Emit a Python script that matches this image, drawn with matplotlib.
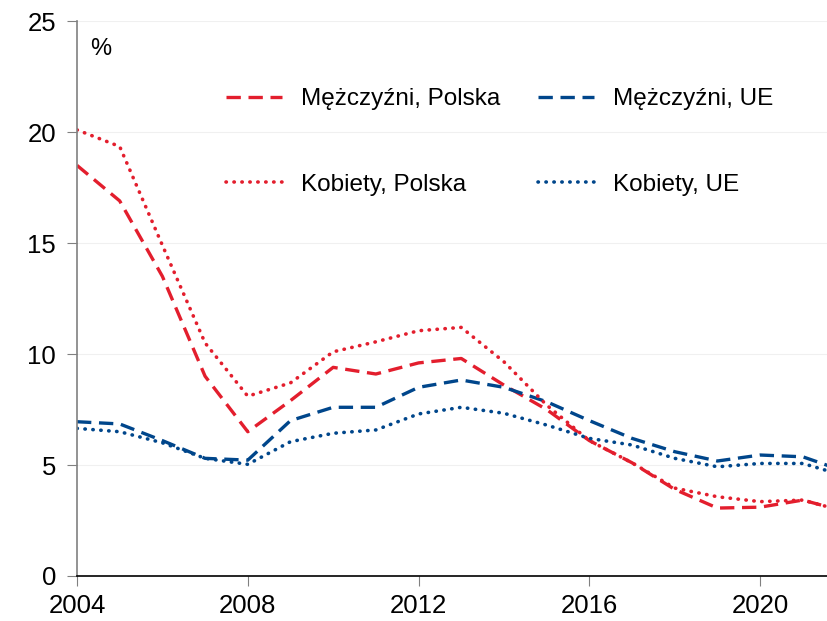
import matplotlib.pyplot as plt
import numpy as np

plt.rcParams['font.family'] = ['Liberation Sans', 'DejaVu Sans']

years = np.arange(2004, 2023)

men_pl = [18.5, 16.9, 13.5, 9.0, 6.5, 7.9, 9.4, 9.1, 9.6, 9.8, 8.6, 7.5,
          6.1, 5.1, 3.9, 3.06, 3.1, 3.42, 2.9]
men_ue = [6.95, 6.85, 6.1, 5.3, 5.22, 7.0, 7.6, 7.6, 8.5, 8.83, 8.5, 7.85,
          7.0, 6.2, 5.6, 5.18, 5.45, 5.37, 4.7]
women_pl = [20.1, 19.35, 14.9, 10.5, 8.1, 8.7, 10.1, 10.55, 11.05, 11.2, 9.65, 7.7,
            6.1, 5.1, 3.96, 3.57, 3.35, 3.42, 2.9]
women_ue = [6.65, 6.5, 6.0, 5.3, 5.03, 6.05, 6.43, 6.58, 7.3, 7.6, 7.33, 6.8,
            6.2, 5.9, 5.3, 4.92, 5.07, 5.07, 4.5]

labels = ['Mężczyźni, Polska', 'Mężczyźni, UE', 'Kobiety, Polska', 'Kobiety, UE']
red = '#E31E2D'
blue = '#00468B'

fig = plt.figure(figsize=(8.28, 6.21), dpi=100)
ax = fig.add_axes([0.093, 0.0725, 0.907, 0.8935])

dash = (0, (4.3, 2.3))
dot = (0, (0.1, 2.1))
l1, = ax.plot(years, men_pl, color=red, lw=2.4, linestyle=dash, label=labels[0])
l2, = ax.plot(years, men_ue, color=blue, lw=2.4, linestyle=dash, label=labels[1])
l3, = ax.plot(years, women_pl, color=red, lw=2.6, linestyle=dot, dash_capstyle='round', label=labels[2])
l4, = ax.plot(years, women_ue, color=blue, lw=2.6, linestyle=dot, dash_capstyle='round', label=labels[3])

ax.set_xlim(2004, 2021.59)
ax.set_ylim(0, 25)
ax.set_xticks([2004, 2008, 2012, 2016, 2020])
ax.set_yticks([0, 5, 10, 15, 20, 25])
ax.yaxis.grid(True, color='#f0f0f0', lw=0.8)
ax.set_axisbelow(True)

for s in ['top', 'right']:
    ax.spines[s].set_visible(False)
ax.spines['left'].set_color('#808080')
ax.spines['left'].set_linewidth(1.2)
ax.spines['bottom'].set_color('black')
ax.spines['bottom'].set_linewidth(1.2)
ax.tick_params(axis='y', length=7, color='#808080', labelsize=18.5, pad=8)
ax.tick_params(axis='x', length=7, color='#808080', labelsize=18.5, pad=6)

ax.text(0.018, 0.97, '%', transform=ax.transAxes, fontsize=17, va='top', ha='left')

# legend: column-wise fill, so order men_pl, women_pl, men_ue, women_ue
ax.legend([l1, l3, l2, l4], [labels[0], labels[2], labels[1], labels[3]],
          ncol=2, loc='upper left', bbox_to_anchor=(0.198, 0.879), frameon=False,
          borderaxespad=0, borderpad=0,
          fontsize=17.5, handlelength=2.3, handletextpad=0.8, columnspacing=1.55,
          labelspacing=2.62)

fig.savefig('out.png', dpi=100)
